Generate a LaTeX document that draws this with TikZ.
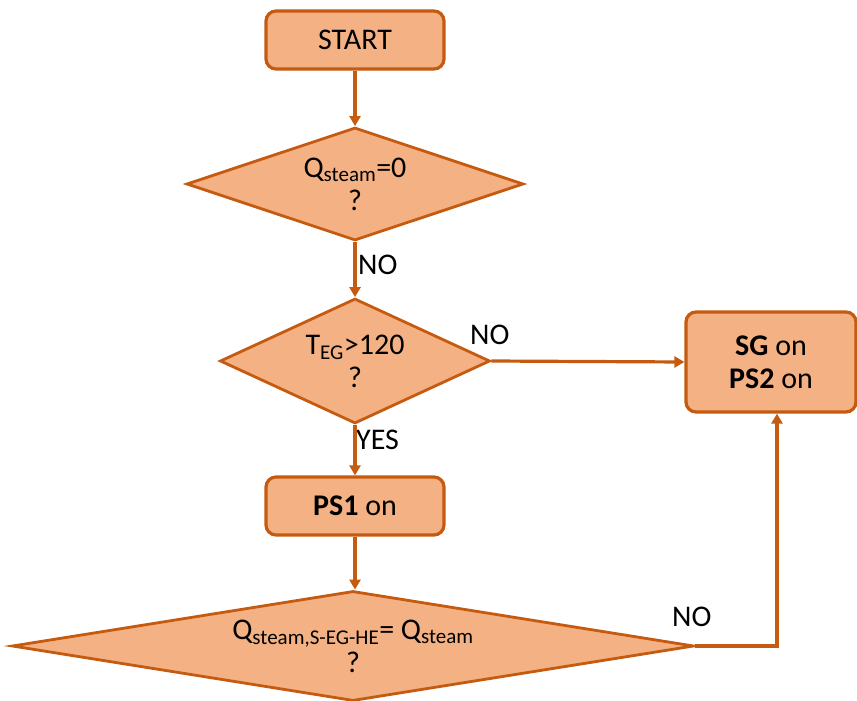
\documentclass[tikz,border=0pt]{standalone}
\usepackage{fontspec}
\setmainfont{Carlito}
\usetikzlibrary{shapes.geometric,arrows.meta}
\definecolor{boxfill}{HTML}{F4B183}
\definecolor{boxline}{HTML}{C55A11}

\begin{document}
\begin{tikzpicture}[x=1pt,y=-1pt,
  every node/.style={font=\fontsize{30}{33}\selectfont},
  proc/.style={rectangle,rounded corners=10pt,draw=boxline,fill=boxfill,line width=3.2pt,align=center},
  dec/.style={diamond,draw=boxline,fill=boxfill,line width=2.8pt,inner sep=-12pt,align=center},
  flow/.style={draw=boxline,line width=3.2pt,-{Triangle[length=10pt,width=11pt]}},
  lab/.style={inner sep=0pt,anchor=west}]
\useasboundingbox (0,0) rectangle (857,701);

\node[proc,minimum width=178pt,minimum height=58pt] (start) at (355,40) {START};
\node[dec,minimum width=337pt,minimum height=113pt,shape aspect=2.98] (qzero) at (355,184) {Q\textsubscript{steam}=0\\?};
\node[dec,minimum width=270pt,minimum height=125pt,shape aspect=2.16] (teg) at (355,361) {T\textsubscript{EG}>120\\?};
\node[proc,minimum width=170pt,minimum height=100pt] (sg) at (771,362) {\textbf{SG} on\\\textbf{PS2} on};
\node[proc,minimum width=178pt,minimum height=58pt] (psone) at (355,506) {\textbf{PS1} on};
\node[dec,minimum width=682pt,minimum height=110pt,shape aspect=6.2] (qeq) at (353,646) {Q\textsubscript{steam,S-EG-HE}= Q\textsubscript{steam}\\?};

\node[lab] (noone) at (358,265) {NO};
\node[lab] (notwo) at (470,335) {NO};
\node[lab] (yes) at (356,440) {YES};
\node[lab] (nothree) at (672,617) {NO};

\draw[flow] (start.south) -- (qzero.north);
\draw[flow] (qzero.south) -- (teg.north);
\draw[flow] (teg.east) -- (sg.west);
\draw[flow] (teg.south) -- (psone.north);
\draw[flow] (psone.south) -- (psone.south |- qeq.north);
\draw[flow] (qeq.east) -| ([xshift=6pt]sg.south);

\end{tikzpicture}
\end{document}
